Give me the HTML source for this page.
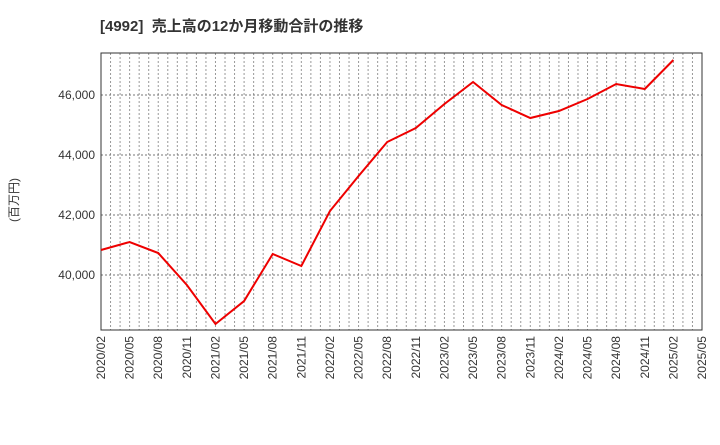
<!DOCTYPE html>
<html><head><meta charset="utf-8"><style>
body{margin:0;background:#fff;}
svg text{font-family:"Liberation Sans","Noto Sans CJK JP",sans-serif;}
</style></head><body>
<svg id="chart" width="720" height="440">
<text x="100" y="31" font-size="15" font-weight="bold" fill="#333" xml:space="preserve" style="white-space:pre">[4992]  売上高の12か月移動合計の推移</text>
<text transform="translate(18,200) rotate(-90)" font-size="12" fill="#333" text-anchor="middle">(百万円)</text>
<g id="grid"></g><g id="axes"></g><g id="series"></g>
</svg>
<script>
const xLabels=["2020/02","2020/05","2020/08","2020/11","2021/02","2021/05","2021/08","2021/11","2022/02","2022/05","2022/08","2022/11","2023/02","2023/05","2023/08","2023/11","2024/02","2024/05","2024/08","2024/11","2025/02","2025/05"];
const values=[40833,41100,40733,39667,38367,39133,40700,40300,42133,43300,44433,44900,45700,46433,45667,45233,45467,45867,46367,46200,47167];
const yTicks=[40000,42000,44000,46000];
const L=101,R=702,T=53,B=330,yMin=38167,yMax=47400;
const NS="http://www.w3.org/2000/svg";
const xq=i=>L+(R-L)*i/(xLabels.length-1);
const y=v=>B-(v-yMin)/(yMax-yMin)*(B-T);
function mk(tag,attrs,parent){const e=document.createElementNS(NS,tag);for(const k in attrs)e.setAttribute(k,attrs[k]);parent.appendChild(e);return e;}
const grid=document.getElementById('grid'),axes=document.getElementById('axes'),series=document.getElementById('series');
const months=(xLabels.length-1)*3;
for(let m=1;m<months;m++){const x=L+(R-L)*m/months;
const l=mk('line',{x1:x,x2:x,y1:T,y2:B,stroke:'#999','stroke-dasharray':'2,2','stroke-width':1},grid);

}
yTicks.forEach(v=>{const l=mk('line',{x1:L,x2:R,y1:y(v),y2:y(v),stroke:'#777','stroke-dasharray':'2,2','stroke-width':1},grid);


const t=mk('text',{x:L-6,y:y(v)+4,'font-size':12,fill:'#333','text-anchor':'end'},axes);t.textContent=v.toLocaleString('en-US');

});
const fr=mk('rect',{x:L,y:T,width:R-L,height:B-T,fill:'none',stroke:'#333','stroke-width':1},axes);


xLabels.forEach((s,i)=>{const x=xq(i);const t=mk('text',{transform:`translate(${x+4},${B+6}) rotate(-90)`,'font-size':12,fill:'#333','text-anchor':'end'},axes);t.textContent=s;

});
const p=mk('polyline',{points:values.map((v,i)=>xq(i)+','+y(v)).join(' '),fill:'none',stroke:'#e00','stroke-width':2},series);


</script>
</body></html>
